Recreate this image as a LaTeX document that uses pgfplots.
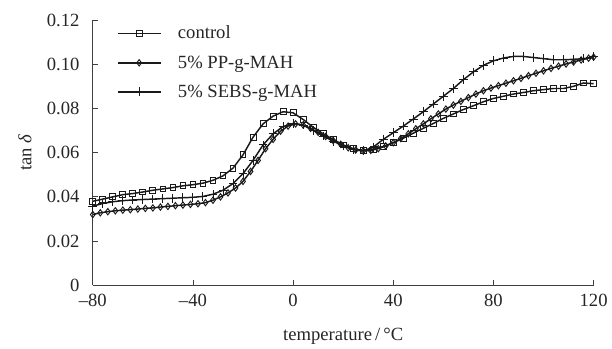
\documentclass[border=0pt]{standalone}
\usepackage{pgfplots}
\pgfplotsset{compat=1.18}
\usepackage{fontspec}
\setmainfont{Liberation Serif}
\begin{document}
\begin{tikzpicture}
\begin{axis}[
  scale only axis,
  width=376.5pt, height=199.5pt,
  xmin=-80, xmax=120, ymin=0, ymax=0.12,
  axis lines=left,
  axis line style={-, line width=0.6pt, black!75},
  tick style={black!75, line width=0.6pt},
  tick align=inside,
  major tick length=4pt,
  xtick={-80,-40,0,40,80,120},
  xticklabels={\textendash80,\textendash40,0,40,80,120},
  ytick={0,0.02,0.04,0.06,0.08,0.10,0.12},
  yticklabels={0,0.02,0.04,0.06,0.08,0.10,0.12},
  ticklabel style={font=\fontsize{14}{16}\selectfont, text=black!85},
  xticklabel style={yshift=-3pt},
  yticklabel style={xshift=-6.5pt},
  xlabel={temperature\,/\,°C},
  ylabel={tan \textit{δ}},
  label style={font=\fontsize{14}{16}\selectfont, text=black!85},
  xlabel style={at={(axis description cs:0.5,0)}, anchor=center, yshift=-38pt},
  ylabel style={at={(axis description cs:0,0.5)}, anchor=center, yshift=51pt},
  legend cell align=left,
  legend style={draw=none, fill=none, at={(0.04,0.998)}, anchor=north west,
    font=\fontsize{14}{16}\selectfont, row sep=7pt, text=black!85},
  legend image code/.code={\draw[mark repeat=2,mark phase=2,#1] plot coordinates {(0cm,0cm)(0.565cm,0cm)(1.13cm,0cm)}; \path (1.5cm,0);},
  every axis plot/.append style={black!90, line width=1.1pt},
]
\addplot[mark=square, mark size=2.2pt, mark options={line width=0.7pt}] table {
-80 0.0380
-76 0.0390
-72 0.0400
-68 0.0410
-64 0.0415
-60 0.0422
-56 0.0430
-52 0.0436
-48 0.0442
-44 0.0450
-40 0.0455
-36 0.0462
-32 0.0475
-28 0.0495
-24 0.0530
-20 0.0590
-16 0.0670
-12 0.0730
-8 0.0765
-4 0.0785
0 0.0780
4 0.0750
8 0.0715
12 0.0685
16 0.0660
20 0.0635
24 0.0618
28 0.0610
32 0.0615
36 0.0628
40 0.0645
44 0.0665
48 0.0688
52 0.0710
56 0.0732
60 0.0755
64 0.0775
68 0.0795
72 0.0812
76 0.0830
80 0.0845
84 0.0855
88 0.0865
92 0.0872
96 0.0880
100 0.0885
104 0.0890
108 0.0890
112 0.0900
116 0.0915
120 0.0912
};
\addlegendentry{control}
\addplot[mark=diamond, mark size=2.4pt, mark options={line width=0.7pt}] table {
-80 0.0320
-77 0.0328
-74 0.0333
-71 0.0337
-68 0.0340
-65 0.0342
-62 0.0345
-59 0.0348
-56 0.0350
-53 0.0354
-50 0.0357
-47 0.0360
-44 0.0363
-41 0.0366
-38 0.0369
-35 0.0374
-32 0.0385
-29 0.0400
-26 0.0418
-23 0.0440
-20 0.0470
-17 0.0515
-14 0.0565
-11 0.0618
-8 0.0660
-5 0.0697
-2 0.0720
1 0.0730
4 0.0725
7 0.0710
10 0.0692
13 0.0673
16 0.0655
19 0.0638
22 0.0622
25 0.0612
28 0.0608
31 0.0610
34 0.0618
37 0.0630
40 0.0645
43 0.0664
46 0.0685
49 0.0708
52 0.0730
55 0.0753
58 0.0775
61 0.0797
64 0.0815
67 0.0832
70 0.0849
73 0.0865
76 0.0880
79 0.0892
82 0.0903
85 0.0914
88 0.0925
91 0.0936
94 0.0948
97 0.0959
100 0.0970
103 0.0981
106 0.0991
109 0.1001
112 0.1010
115 0.1019
118 0.1027
120 0.1032
};
\addlegendentry{5\% PP-g-MAH}
\addplot[mark=+, mark size=3.3pt, mark options={line width=0.7pt}] table {
-80 0.0358
-76 0.0370
-72 0.0378
-68 0.0383
-64 0.0386
-60 0.0388
-56 0.0390
-52 0.0392
-48 0.0394
-44 0.0396
-40 0.0398
-36 0.0402
-32 0.0412
-28 0.0430
-24 0.0460
-20 0.0505
-16 0.0565
-12 0.0635
-8 0.0685
-4 0.0718
0 0.0732
4 0.0725
8 0.0700
12 0.0675
16 0.0652
20 0.0630
24 0.0614
28 0.0608
32 0.0625
36 0.0660
40 0.0690
44 0.0720
48 0.0752
52 0.0785
56 0.0820
60 0.0855
64 0.0890
68 0.0930
72 0.0965
76 0.0995
80 0.1015
84 0.1028
88 0.1035
92 0.1035
96 0.1030
100 0.1025
104 0.1020
108 0.1020
112 0.1022
116 0.1025
120 0.1033
};
\addlegendentry{5\% SEBS-g-MAH}
\end{axis}
\path ([shift={(-69.75pt,-45pt)}]current axis.south west) rectangle ([shift={(12.75pt,15pt)}]current axis.north east);
\end{tikzpicture}
\end{document}
